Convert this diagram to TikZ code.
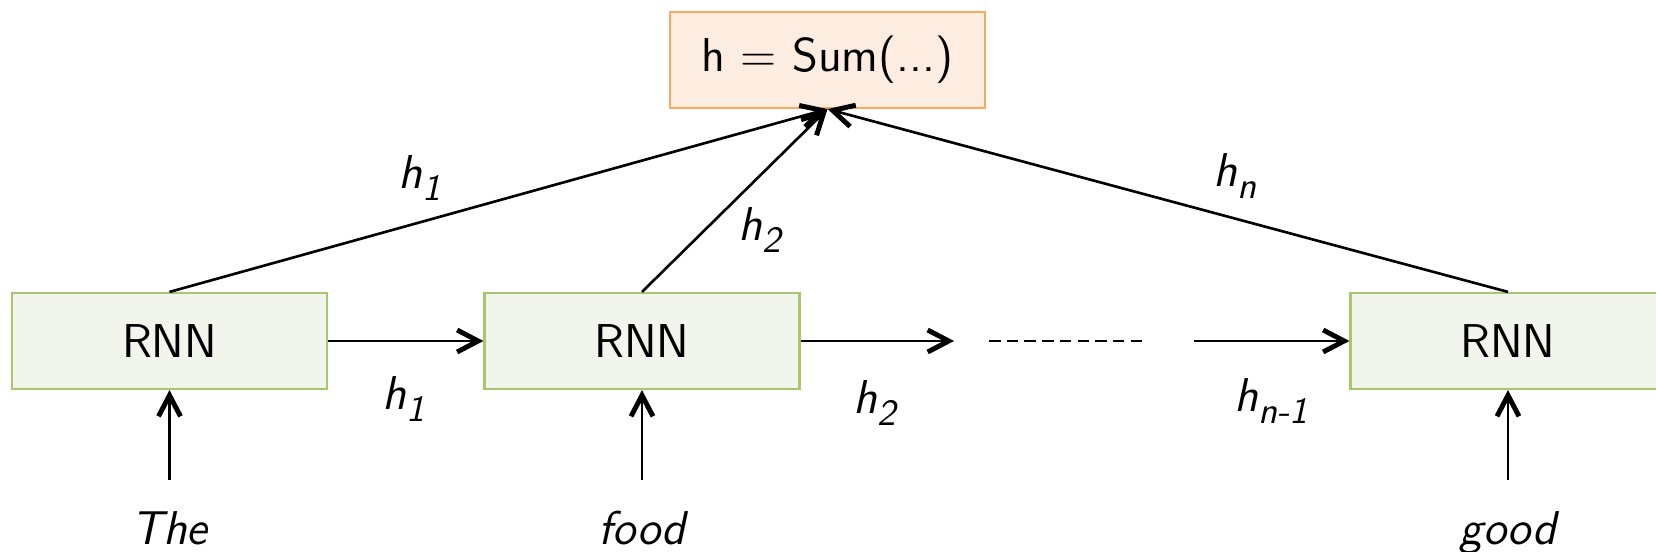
\documentclass[tikz,border=0pt]{standalone}
\usepackage{fontspec}
\usepackage{tikz}
\usepackage{xcolor}
\usetikzlibrary{arrows.meta,positioning}
\definecolor{cellfill}{HTML}{F2F5EC}
\definecolor{celldraw}{HTML}{A9C66F}
\definecolor{sumfill}{HTML}{FDEDE0}
\definecolor{sumdraw}{HTML}{F9A95D}
\newcommand{\lowsub}[1]{\raisebox{-0.25em}{\fontsize{10.5}{12}\selectfont #1}}

\begin{document}
\begin{tikzpicture}[>={Straight Barb[length=2.1mm,width=2.2mm,line width=1.4pt]},
    font=\sffamily\fontsize{13.5}{16}\selectfont,
    cell/.style={draw=celldraw,fill=cellfill,line width=0.6pt,minimum width=3.15cm,
                 minimum height=0.96cm,inner sep=0pt},
    sumbox/.style={draw=sumdraw,fill=sumfill,line width=0.6pt,minimum width=3.15cm,
                   minimum height=0.96cm,inner sep=0pt},
    word/.style={font=\sffamily\itshape\fontsize{13.5}{16}\selectfont,anchor=base,
                 text height=0.35cm,text depth=0.1cm,inner sep=0pt,outer ysep=0.3cm},
    hlabel/.style={font=\sffamily\itshape\fontsize{13.5}{16}\selectfont,inner sep=0pt},
    flow/.style={line width=0.75pt,->}]
    \clip (0,0) rectangle (16.56,5.52);

    \node[sumbox] (sum) at (8.275,4.92) {h = Sum(...)};

    \node[cell] (r1) at (1.695,2.11) {RNN};
    \node[cell] (r2) at (6.42,2.11) {RNN};
    \node[cell] (r3) at (15.08,2.11) {RNN};

    \node[word] (w1) at (1.695,0.07) {The};
    \node[word] (w2) at (6.42,0.07) {food};
    \node[word] (w3) at (15.08,0.07) {good};
    \draw[flow] (w1.north)--(r1.south);
    \draw[flow] (w2.north)--(r2.south);
    \draw[flow] (w3.north)--(r3.south);

    % chain along the sequence
    \coordinate (c1) at (9.54,2.11);
    \coordinate (c2) at (9.89,2.11);
    \coordinate (c3) at (11.46,2.11);
    \coordinate (c4) at (11.94,2.11);
    \draw[flow] (r1.east)--(r2.west);
    \draw[flow] (r2.east)--(c1);
    \draw[line width=0.75pt,dash pattern=on 1.15mm off 0.62mm] (c2)--(c3);
    \draw[flow] (c4)--(r3.west);

    \node[hlabel] (l1) at (4.04,1.53) {h\lowsub{1}};
    \node[hlabel] (l2) at (8.75,1.49) {h\lowsub{2}};
    \node[hlabel] (l3) at (12.71,1.51) {h\lowsub{n-1}};

    % outputs to the sum
    \draw[flow] (r1.north)--(sum.south);
    \draw[flow] (r2.north)--(sum.south);
    \draw[flow] (r3.north)--(sum.south);

    \node[hlabel] (u1) at (4.20,3.74) {h\lowsub{1}};
    \node[hlabel] (u2) at (7.60,3.22) {h\lowsub{2}};
    \node[hlabel] (u3) at (12.35,3.76) {h\lowsub{n}};
\end{tikzpicture}
\end{document}
